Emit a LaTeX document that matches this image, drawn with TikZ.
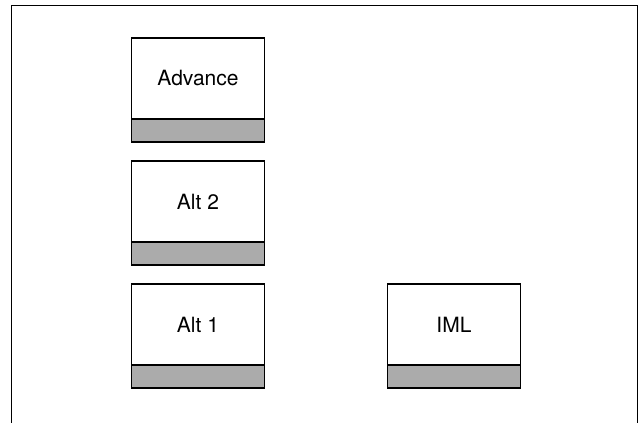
\documentclass[tikz,border=0pt]{standalone}
\usepackage{fontspec}
\setmainfont{TeX Gyre Heros}
\usetikzlibrary{positioning}

\begin{document}
\begin{tikzpicture}[
    x=1pt, y=-1pt,
    node distance=19pt and 123pt,
    card/.style={
        rectangle, draw, line width=1.8pt,
        minimum width=133pt, minimum height=81pt,
        inner sep=0pt, outer sep=0pt,
        font=\fontsize{21}{24}\selectfont
    },
    strip/.style={
        rectangle, draw, line width=1.8pt, fill=black!33,
        minimum width=133pt, minimum height=23pt,
        inner sep=0pt, outer sep=0pt
    },
    frame/.style={line width=0.9pt}
]
\useasboundingbox (0,0) rectangle (641,423);

% Outer frame (open at the bottom)
\coordinate (fbl) at (11,423);
\coordinate (ftl) at (11,5);
\coordinate (ftr) at (637.5,5);
\coordinate (fbr) at (637.5,423);
\draw[frame] (fbl) -- (ftl) -- (ftr) -- (fbr);

% Left column
\node[card] (advance) at (198,78.5) {Advance};
\node[strip, below=0pt of advance] (advancebar) {};
\node[card, below=of advancebar] (alttwo) {Alt 2};
\node[strip, below=0pt of alttwo] (alttwobar) {};
\node[card, below=of alttwobar] (altone) {Alt 1};
\node[strip, below=0pt of altone] (altonebar) {};

% Right
\node[card, right=of altone] (iml) {IML};
\node[strip, below=0pt of iml] (imlbar) {};

\end{tikzpicture}
\end{document}
